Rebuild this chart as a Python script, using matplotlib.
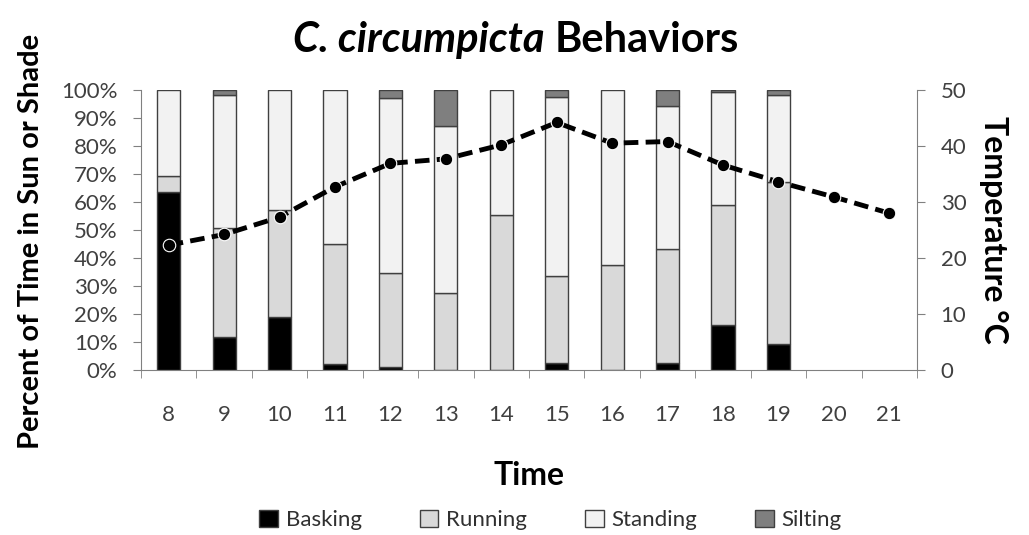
import matplotlib
matplotlib.use("Agg")
import matplotlib.pyplot as plt
import numpy as np
from matplotlib.patches import Patch

plt.rcParams['font.family'] = ['Lato', 'DejaVu Sans']

hours = [8, 9, 10, 11, 12, 13, 14, 15, 16, 17, 18, 19, 20, 21]
basking = [63.7, 11.9, 18.8, 2.1, 1.0, 0.0, 0.0, 2.4, 0.0, 2.4, 16.1, 9.2, 0, 0]
running = [5.7, 38.9, 38.3, 42.8, 33.8, 27.4, 55.4, 31.3, 37.4, 40.9, 42.8, 58.1, 0, 0]
standing = [30.6, 47.4, 42.9, 55.1, 62.2, 59.9, 44.6, 63.7, 62.6, 51.0, 40.3, 30.9, 0, 0]
silting = [0.0, 1.8, 0.0, 0.0, 3.0, 12.7, 0.0, 2.6, 0.0, 5.7, 0.8, 1.8, 0, 0]
temperature = [22.3, 24.2, 27.3, 32.7, 36.9, 37.7, 40.2, 44.2, 40.5, 40.8, 36.6, 33.6, 30.9, 28.0]

series = [("Basking", basking, "#000000"),
          ("Running", running, "#d9d9d9"),
          ("Standing", standing, "#f2f2f2"),
          ("Silting", silting, "#7f7f7f")]

W, H = 1029, 535
fig = plt.figure(figsize=(W/100, H/100), dpi=100)
ax = fig.add_axes([141/W, 1-370/H, (917-141)/W, 280/H])
x = np.arange(len(hours))
bottom = np.zeros(len(hours))
for name, vals, col in series:
    vals = np.array(vals, dtype=float)
    mask = vals > 0
    ax.bar(x[mask], vals[mask], bottom=bottom[mask], width=0.42, color=col,
           edgecolor="#404040", linewidth=1.0, zorder=2)
    bottom += vals

tick_fs = 16
ax.set_xlim(-0.5, len(hours) - 0.5)
ax.set_ylim(0, 100)
ax.set_yticks(np.arange(0, 101, 10))
ax.set_yticklabels([f"{v}%" for v in range(0, 101, 10)], fontsize=tick_fs, color="#404040")
ax.set_xticks(x)
ax.set_xticklabels([str(h) for h in hours], fontsize=tick_fs, color="#404040")
ax.set_xticks(np.arange(-0.5, len(hours), 1), minor=True)
ax.tick_params(axis='x', which='major', length=0, pad=25)
ax.tick_params(axis='x', which='minor', length=6, color="#808080", direction='out')
ax.tick_params(axis='y', length=6, color="#808080", direction='out', pad=11)
for s in ['top', 'right']:
    ax.spines[s].set_visible(False)
for s in ['left', 'bottom']:
    ax.spines[s].set_color("#808080")
ax.set_ylabel("Percent of Time in Sun or Shade", fontsize=21, fontweight='bold')
ax.yaxis.set_label_coords(-0.125, 0.46)
ax.set_xlabel("Time", fontsize=23, fontweight='bold', labelpad=26)

ax2 = ax.twinx()
ax2.set_ylim(0, 50)
ax2.set_yticks(np.arange(0, 51, 10))
ax2.set_yticklabels([str(v) for v in range(0, 51, 10)], fontsize=tick_fs, color="#404040")
ax2.tick_params(axis='y', length=6, color="#808080", direction='out', pad=11)
for s in ['top', 'left', 'bottom']:
    ax2.spines[s].set_visible(False)
ax2.spines['right'].set_color("#808080")
ax2.plot(x, temperature, color="black", linewidth=3.5, linestyle=(0, (3, 1.5)),
         marker='o', markersize=9, markerfacecolor='black',
         markeredgecolor='white', markeredgewidth=0.8, zorder=3)
ax2.set_ylabel("Temperature °C", fontsize=23, fontweight='bold', rotation=-90, labelpad=30)

# Title: italic species name + bold "Behaviors", centred together
title_fs = 30
ty = 1 - 40/H
t1 = fig.text(0, ty, "C. circumpicta", fontsize=title_fs, fontweight='bold', style='italic', ha='left', va='center')
t2 = fig.text(0, ty, "Behaviors", fontsize=title_fs, fontweight='bold', ha='left', va='center')
fig.canvas.draw()
r = fig.canvas.get_renderer()
w1 = t1.get_window_extent(r).width / W
w2 = t2.get_window_extent(r).width / W
gap = 10 / W
total = w1 + gap + w2
x0 = 516/W - total/2
t1.set_x(x0)
t2.set_x(x0 + w1 + gap)

handles = [Patch(facecolor=c, edgecolor="#404040", label=n) for n, _, c in series]
fig.legend(handles=handles, loc='center', bbox_to_anchor=(0.535, 1-520/H), ncol=4,
           frameon=False, fontsize=16, handlelength=0.85, handleheight=0.85,
           columnspacing=2.6, handletextpad=0.35, labelcolor="#303030")

fig.savefig("out.png", dpi=100)
